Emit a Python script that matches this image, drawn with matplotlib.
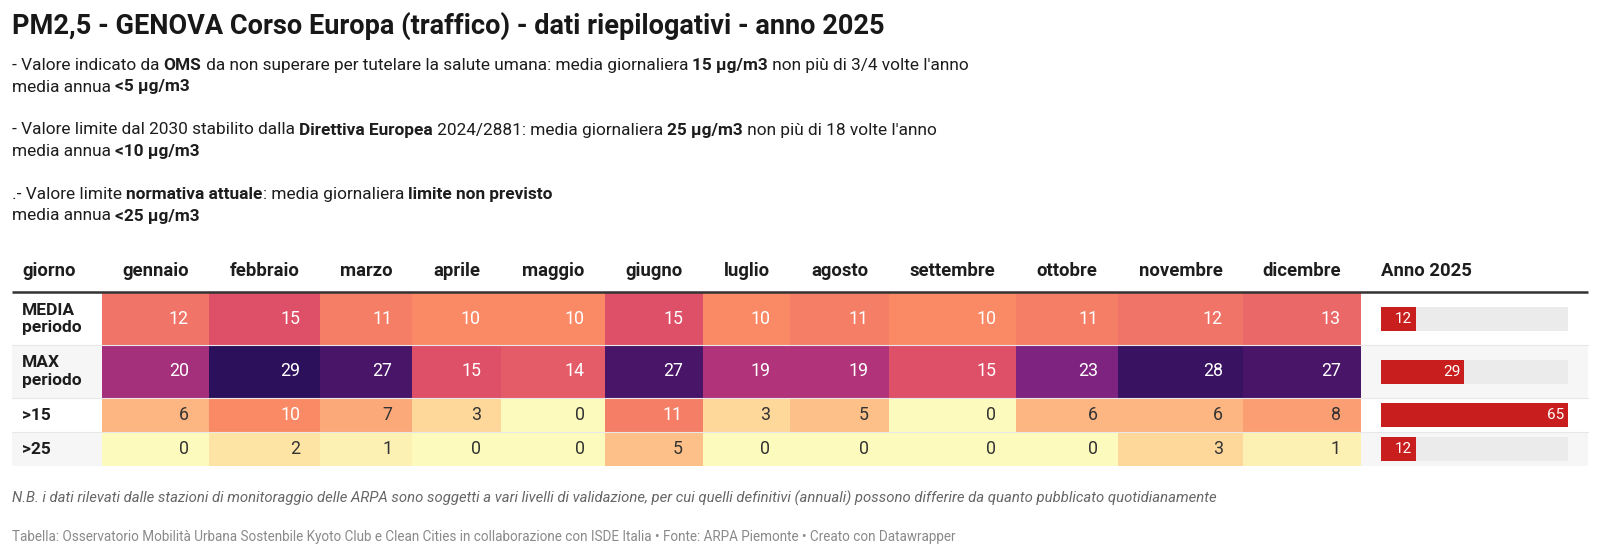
import matplotlib
matplotlib.use("Agg")
import matplotlib.pyplot as plt
import numpy as np
from matplotlib.colors import LinearSegmentedColormap, Normalize, to_rgb
from matplotlib.patches import Rectangle

# ---------------- data ----------------
title = "PM2,5 - GENOVA Corso Europa (traffico) - dati riepilogativi - anno 2025"
first_col = "giorno"
months = ["gennaio", "febbraio", "marzo", "aprile", "maggio", "giugno",
          "luglio", "agosto", "settembre", "ottobre", "novembre", "dicembre"]
year_col = "Anno 2025"
row_labels = ["MEDIA\nperiodo", "MAX\nperiodo", ">15", ">25"]
media = [12, 15, 11, 10, 10, 15, 10, 11, 10, 11, 12, 13]
massimo = [20, 29, 27, 15, 14, 27, 19, 19, 15, 23, 28, 27]
sup15 = [6, 10, 7, 3, 0, 11, 3, 5, 0, 6, 6, 8]
sup25 = [0, 2, 1, 0, 0, 5, 0, 0, 0, 0, 3, 1]
anno = [12, 29, 65, 12]

subtitle = [
    [("- Valore indicato da ", "normal"), ("OMS", "bold"),
     (" da non superare per tutelare la salute umana: media giornaliera ", "normal"),
     ("15 µg/m3", "bold"), (" non più di 3/4 volte l'anno", "normal")],
    [("media annua ", "normal"), ("<5 µg/m3", "bold")],
    [],
    [("- Valore limite dal 2030 stabilito dalla ", "normal"), ("Direttiva Europea", "bold"),
     (" 2024/2881: media giornaliera ", "normal"), ("25 µg/m3", "bold"),
     (" non più di 18 volte l'anno", "normal")],
    [("media annua ", "normal"), ("<10 µg/m3", "bold")],
    [],
    [(".- Valore limite ", "normal"), ("normativa attuale", "bold"),
     (": media giornaliera ", "normal"), ("limite non previsto", "bold")],
    [("media annua ", "normal"), ("<25 µg/m3", "bold")],
]
note = ("N.B. i dati rilevati dalle stazioni di monitoraggio delle ARPA sono soggetti a vari livelli "
        "di validazione, per cui quelli definitivi (annuali) possono differire da quanto pubblicato "
        "quotidianamente")
credits = ("Tabella: Osservatorio Mobilità Urbana Sostenbile Kyoto Club e Clean Cities in collaborazione "
           "con ISDE Italia • Fonte: ARPA Piemonte • Creato con Datawrapper")

# ---------------- style / layout ----------------
plt.rcParams['font.family'] = ['Roboto', 'DejaVu Sans']
W, H = 1600, 559
fig = plt.figure(figsize=(W / 100, H / 100), dpi=100)
ax = fig.add_axes([0, 0, 1, 1])
ax.set_xlim(0, W)
ax.set_ylim(H, 0)
ax.axis('off')

left = 12
col_edges = [102, 209, 320, 412, 501, 605, 703, 790, 889, 1016, 1118, 1243, 1361]
row_edges = [293, 345, 398, 432, 466]
bar_x0, bar_x1 = 1381, 1568
table_right = 1588
txt_dark = "#1d1d1d"

anchors = [(0, "#fcfbbd"), (2, "#fde3a4"), (3, "#fed69b"), (5, "#fdc088"),
           (7, "#fca87a"), (10, "#fa8a66"), (12, "#f07368"), (15, "#de5068"),
           (19, "#b1347a"), (23, "#7f2480"), (27, "#4a1569"), (29, "#2d105c")]
vmax = anchors[-1][0]
cmap = LinearSegmentedColormap.from_list("dw", [(a / vmax, c) for a, c in anchors])
norm = Normalize(vmin=0, vmax=vmax)

renderer = fig.canvas.get_renderer()


def text_width(s, **kw):
    t1 = ax.text(0, 0, "x" + s + "x", **kw)
    t2 = ax.text(0, 0, "xx", **kw)
    w = t1.get_window_extent(renderer).width - t2.get_window_extent(renderer).width
    t1.remove(); t2.remove()
    return w


def rich_line(x, y, segments, size, color):
    for s, wt in segments:
        ax.text(x, y, s, fontsize=size, fontweight=wt, color=color, va='baseline', ha='left')
        x += text_width(s, fontsize=size, fontweight=wt)


# title
ax.text(left, 34, title, fontsize=19.5, fontweight='bold', color="#181818", va='baseline')

# subtitle lines
y0, dy = 70, 21.5
for i, seg in enumerate(subtitle):
    if seg:
        rich_line(left, y0 + i * dy, seg, 12.4, "#1d1d1d")

# header
hdr_base = 276
hdr_size = 13.3
ax.text(22, hdr_base, first_col, fontsize=hdr_size, fontweight='bold', color=txt_dark, va='baseline')
for j, m in enumerate(months):
    cx = (col_edges[j] + col_edges[j + 1]) / 2
    ax.text(cx, hdr_base, m, fontsize=hdr_size, fontweight='bold', color=txt_dark,
            va='baseline', ha='center')
ax.text(bar_x0, hdr_base, year_col, fontsize=hdr_size, fontweight='bold', color=txt_dark,
        va='baseline', ha='left')
ax.plot([left, table_right], [291.5, 291.5], color="#333333", lw=1.8, solid_capstyle='butt', zorder=5)

# row backgrounds (striped)
for i in range(len(row_labels)):
    if i % 2 == 1:
        ax.add_patch(Rectangle((left, row_edges[i]), table_right - left,
                               row_edges[i + 1] - row_edges[i], color="#f6f6f6", lw=0, zorder=0))

# heatmap
data = np.array([media, massimo, sup15, sup25], dtype=float)
ax.pcolormesh(col_edges, row_edges, data, cmap=cmap, norm=norm, zorder=1)

row_centers = [(row_edges[i] + row_edges[i + 1]) / 2 for i in range(len(row_labels))]
for i in range(data.shape[0]):
    for j in range(data.shape[1]):
        v = data[i, j]
        r, g, b = to_rgb(cmap(norm(v)))
        lum = 0.299 * r + 0.587 * g + 0.114 * b
        col = "white" if lum < 0.68 else "#333333"
        ax.text(col_edges[j + 1] - 20, row_centers[i], f"{int(v)}", fontsize=12.8,
                color=col, ha='right', va='center', zorder=3)

# row labels
for i, lab in enumerate(row_labels):
    ax.text(22, row_centers[i], lab, fontsize=12.5, fontweight='bold', color=txt_dark,
            ha='left', va='center', linespacing=1.2, zorder=3)

# separators
for y in row_edges[1:-1]:
    ax.plot([left, table_right], [y, y], color="#e8e8e8", lw=0.8, zorder=2)

# bar column
bax = fig.add_axes([bar_x0 / W, (H - row_edges[-1]) / H, (bar_x1 - bar_x0) / W,
                    (row_edges[-1] - row_edges[0]) / H])
bax.set_xlim(0, max(anno))
bax.set_ylim(row_edges[-1], row_edges[0])
bax.axis('off')
bax.patch.set_alpha(0)
bax.barh(row_centers, [max(anno)] * len(anno), height=24, color="#ebebeb", lw=0)
bax.barh(row_centers, anno, height=24, color="#c81e1e", lw=0)
for yc, v in zip(row_centers, anno):
    bax.annotate(f"{v}", (v, yc), xytext=(-4, 0), textcoords='offset pixels',
                 ha='right', va='center', color='white', fontsize=11)

# footer
ax.text(left, 503, note, fontsize=10.7, style='italic', color="#666666", va='baseline')
ax.text(left, 541, credits, fontsize=9.75, color="#8a8a8a", va='baseline')

fig.savefig("out.png", dpi=100)
